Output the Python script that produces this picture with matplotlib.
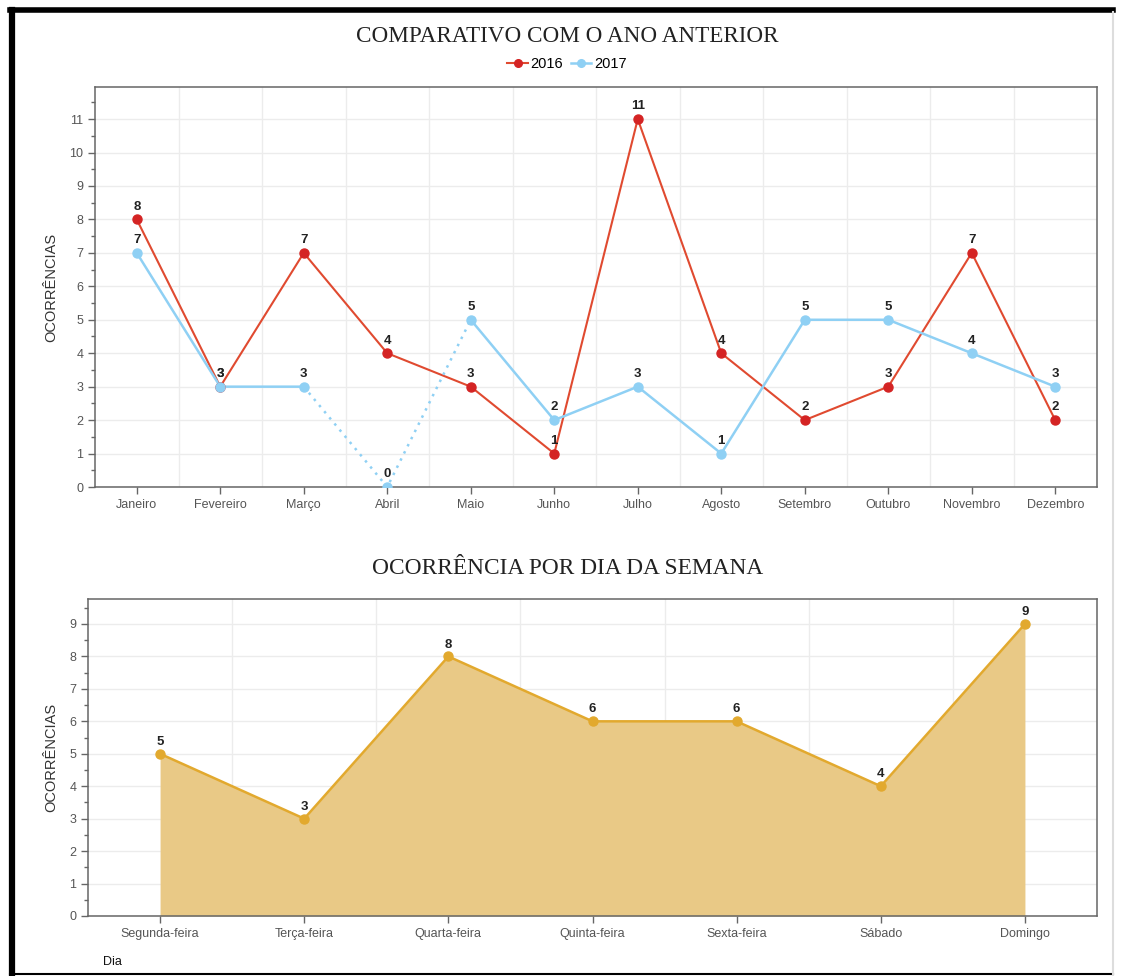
import matplotlib
matplotlib.use("Agg")
import matplotlib.pyplot as plt
import numpy as np
from matplotlib.lines import Line2D
from matplotlib.ticker import MultipleLocator

months = ['Janeiro', 'Fevereiro', 'Março', 'Abril', 'Maio', 'Junho', 'Julho',
          'Agosto', 'Setembro', 'Outubro', 'Novembro', 'Dezembro']
y2016 = [8, 3, 7, 4, 3, 1, 11, 4, 2, 3, 7, 2]
y2017 = [7, 3, 3, 0, 5, 2, 3, 1, 5, 5, 4, 3]

days = ['Segunda-feira', 'Terça-feira', 'Quarta-feira', 'Quinta-feira',
        'Sexta-feira', 'Sábado', 'Domingo']
day_counts = [5, 3, 8, 6, 6, 4, 9]

RED_LINE = '#e04a30'
RED_MARK = '#d42424'
BLUE = '#8fd0f4'
GOLD_LINE = '#e2a92e'
GOLD_FILL = '#e9c986'
TICK_COL = '#555555'
SPINE_COL = '#666666'

plt.rcParams['font.family'] = ['Liberation Sans', 'DejaVu Sans']

fig = plt.figure(figsize=(11.24, 9.76), dpi=100)

# frame around the page
fig.add_artist(Line2D([10/1124, 1113/1124], [1 - 10/976, 1 - 10/976], color='black', lw=4, transform=fig.transFigure))
fig.add_artist(Line2D([12/1124, 12/1124], [1 - 10/976, 0], color='black', lw=4.5, transform=fig.transFigure))
fig.add_artist(Line2D([10/1124, 1113/1124], [2/976, 2/976], color='black', lw=1.5, transform=fig.transFigure))
fig.add_artist(Line2D([1113/1124, 1113/1124], [1 - 12/976, 0], color='#dddddd', lw=1.5, transform=fig.transFigure))


def style_axes(ax):
    for s in ax.spines.values():
        s.set_color(SPINE_COL)
        s.set_linewidth(1.1)
    ax.tick_params(axis='both', colors=SPINE_COL, labelcolor=TICK_COL, labelsize=9,
                   direction='out', length=5, width=1)
    ax.tick_params(axis='y', which='minor', colors=SPINE_COL, length=3, width=1)
    ax.yaxis.set_minor_locator(MultipleLocator(0.5))
    ax.set_axisbelow(True)
    ax.grid(True, which='major', axis='y', color='#ececec', lw=1)
    ax.set_ylabel('OCORRÊNCIAS', fontsize=10.5, color='#333333', labelpad=8)


# ---- top chart: comparison by month ----
ax1 = fig.add_axes([95/1124, 1 - 487/976, (1097 - 95)/1124, (487 - 87)/976])
style_axes(ax1)
x = np.arange(len(months))
for b in np.arange(0.5, len(months) - 1, 1):
    ax1.axvline(b, color='#ececec', lw=1, zorder=0)

ax1.plot(x, y2016, color=RED_LINE, lw=1.5, zorder=3)
ax1.plot(x, y2016, 'o', color=RED_MARK, ms=6.5, zorder=4)

# 2017: dotted where the value is zero
b17 = np.array(y2017, dtype=float)
solid = b17.copy()
solid[3] = np.nan
ax1.plot(x, solid, color=BLUE, lw=1.8, zorder=3)
ax1.plot(x[2:5], b17[2:5], color=BLUE, lw=1.8, ls=(0, (1, 2.2)), zorder=3)
ax1.plot(x, b17, 'o', color=BLUE, ms=6.5, zorder=4)

for xi, v in zip(x, y2016):
    ax1.text(xi, v + 0.2, str(v), ha='center', va='bottom', fontsize=9.5,
             fontweight='bold', color='#222222', zorder=5)
for xi, v in zip(x, y2017):
    ax1.text(xi, v + 0.2, str(v), ha='center', va='bottom', fontsize=9.5,
             fontweight='bold', color='#222222', zorder=5)

ax1.set_xlim(-0.5, len(months) - 0.5)
ax1.set_ylim(0, 11.96)
ax1.set_xticks(x)
ax1.set_xticklabels(months)
ax1.set_yticks(range(0, 12))

fig.text(567/1124, 1 - 37/976, 'COMPARATIVO COM O ANO ANTERIOR', ha='center', va='center',
         fontsize=16.7, family='Liberation Serif', color='#222222')
handles = [Line2D([], [], color=RED_LINE, marker='o', markerfacecolor=RED_MARK,
                  markeredgecolor=RED_MARK, ms=5.5, lw=1.5),
           Line2D([], [], color=BLUE, marker='o', ms=5.5, lw=1.8)]
fig.legend(handles, ['2016', '2017'], loc='center', bbox_to_anchor=(567/1124, 1 - 64/976),
           ncol=2, frameon=False, fontsize=10.5, handlelength=1.4, handletextpad=0.2,
           columnspacing=0.5, borderpad=0)

# ---- bottom chart: by weekday ----
ax2 = fig.add_axes([88/1124, 1 - 916/976, (1097 - 88)/1124, (916 - 599)/976])
style_axes(ax2)
xd = np.arange(len(days))
for b in np.arange(0.5, len(days) - 1, 1):
    ax2.axvline(b, color='#ececec', lw=1, zorder=0)
ax2.fill_between(xd, 0, day_counts, color=GOLD_FILL, lw=0, zorder=2)
ax2.plot(xd, day_counts, color=GOLD_LINE, lw=1.8, zorder=3)
ax2.plot(xd, day_counts, 'o', color=GOLD_LINE, ms=6.5, zorder=4)
for xi, v in zip(xd, day_counts):
    ax2.text(xi, v + 0.18, str(v), ha='center', va='bottom', fontsize=9.5,
             fontweight='bold', color='#222222', zorder=5)
ax2.set_xlim(-0.5, len(days) - 0.5)
ax2.set_ylim(0, 9.77)
ax2.set_xticks(xd)
ax2.set_xticklabels(days)
ax2.set_yticks(range(0, 10))

fig.text(568/1124, 1 - 568/976, 'OCORRÊNCIA POR DIA DA SEMANA', ha='center', va='center',
         fontsize=16.8, family='Liberation Serif', color='#222222')
fig.text(103/1124, 1 - 962/976, 'Dia', ha='left', va='center', fontsize=9, color='#111111')

fig.savefig('out.png', dpi=100)
